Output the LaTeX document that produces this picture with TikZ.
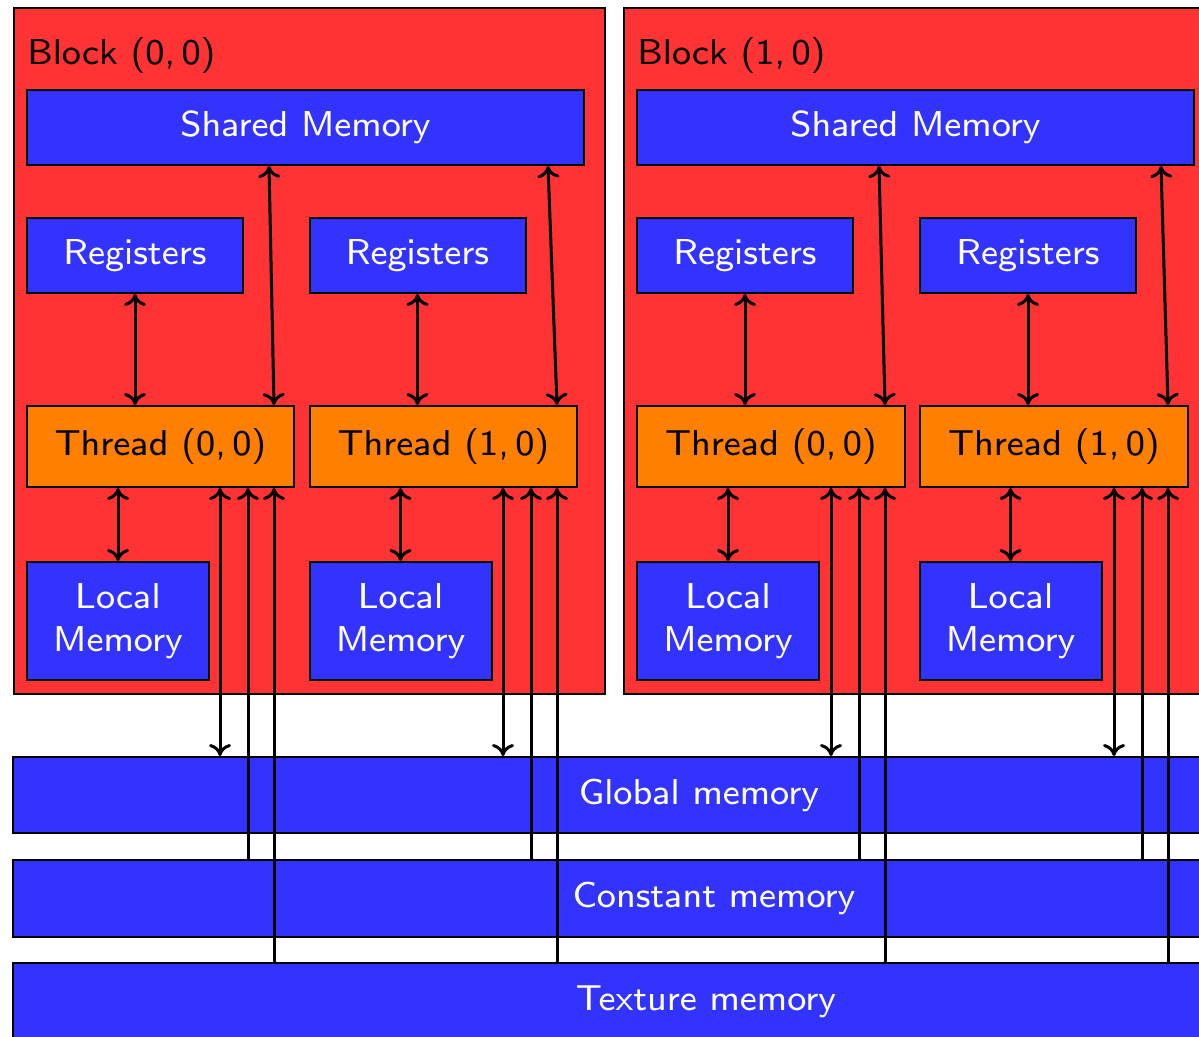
\documentclass[tikz,border=0pt]{standalone}
\usetikzlibrary{arrows.meta,calc}
\definecolor{bred}{RGB}{255,51,51}
\definecolor{bblue}{RGB}{51,51,255}
\definecolor{borange}{RGB}{255,128,0}
\font\bigss=cmss8 at 18pt
\newcommand\diagfont{\bigss\baselineskip=21.5pt\relax}
\begin{document}
\begin{tikzpicture}[x=0.5pt,y=-0.5pt,
  font=\diagfont,
  >={Computer Modern Rightarrow[length=6pt,width=11pt]},
  blockbox/.style={draw=black, line width=1pt, fill=bred, inner sep=0pt, anchor=north west},
  membox/.style={draw=black, line width=1pt, fill=bblue, text=white, inner sep=0pt, align=center},
  thrbox/.style={draw=black, line width=1pt, fill=borange, text=black, inner sep=0pt},
  link/.style={line width=1.5pt}]
\path[use as bounding box, clip] (0,0) rectangle (1199,1037);
% blocks
\node[blockbox, minimum width=295.5pt, minimum height=343pt] (b0) at (13,7) {};
\node[blockbox, minimum width=295.5pt, minimum height=343pt] (b1) at (623,7) {};
\node[anchor=base west, inner sep=0pt] (lb0) at (27,65) {Block (0,\,0)};
\node[anchor=base west, inner sep=0pt] (lb1) at (637,65) {Block (1,\,0)};
% shared
\node[membox, minimum width=278.5pt, minimum height=37.5pt] (s0) at (305.5,127.5) {Shared Memory};
\node[membox, minimum width=278.5pt, minimum height=37.5pt] (s1) at (915.5,127.5) {Shared Memory};
% registers
\node[membox, minimum width=108pt, minimum height=37.5pt] (r00) at (135,255.5) {Registers};
\node[membox, minimum width=108pt, minimum height=37.5pt] (r01) at (417.5,255.5) {Registers};
\node[membox, minimum width=108pt, minimum height=37.5pt] (r10) at (745,255.5) {Registers};
\node[membox, minimum width=108pt, minimum height=37.5pt] (r11) at (1028,255.5) {Registers};
% threads
\node[thrbox, minimum width=133.5pt, minimum height=40.5pt] (t00) at (160.5,446.5) {Thread (0,\,0)};
\node[thrbox, minimum width=133.5pt, minimum height=40.5pt] (t01) at (443.5,446.5) {Thread (1,\,0)};
\node[thrbox, minimum width=134pt, minimum height=40.5pt] (t10) at (771,446.5) {Thread (0,\,0)};
\node[thrbox, minimum width=134pt, minimum height=40.5pt] (t11) at (1054,446.5) {Thread (1,\,0)};
% local
\node[membox, minimum width=91pt, minimum height=59pt] (l00) at (118,621) {Local\\Memory};
\node[membox, minimum width=91pt, minimum height=59pt] (l01) at (400.5,621) {Local\\Memory};
\node[membox, minimum width=91pt, minimum height=59pt] (l10) at (728,621) {Local\\Memory};
\node[membox, minimum width=91pt, minimum height=59pt] (l11) at (1010.5,621) {Local\\Memory};
% device memories
\node[membox, minimum width=686pt, minimum height=38pt] (gm) at (699,795) {Global memory};
\node[membox, minimum width=701pt, minimum height=38.5pt] (cm) at (714,898.5) {Constant memory};
\node[membox, minimum width=693pt, minimum height=38pt] (tm) at (706,1001) {Texture memory};
% connectors
\foreach \t/\s/\r/\l/\sx in {t00/s0/r00/l00/121.5pt, t01/s0/r01/l01/261pt, t10/s1/r10/l10/121.5pt, t11/s1/r11/l11/262.5pt}{
  \draw[link,<->] (\r.south) -- (\r.south |- \t.north);
  \draw[link,<->] (\l.north) -- (\l.north |- \t.south);
  \coordinate (sh\t) at ([xshift=\sx]\s.south west);
  \coordinate (th\t) at ([xshift=-10.5pt]\t.north east);
  \draw[link,<->] (sh\t) -- (th\t);
  \coordinate (g\t) at ([xshift=-37.5pt]\t.south east);
  \coordinate (c\t) at ([xshift=-23.5pt]\t.south east);
  \coordinate (x\t) at ([xshift=-10.5pt]\t.south east);
  \draw[link,<->] (g\t) -- (g\t |- gm.north);
  \draw[link,<-] (c\t) -- (c\t |- cm.north);
  \draw[link,<-] (x\t) -- (x\t |- tm.north);
}
\end{tikzpicture}
\end{document}
